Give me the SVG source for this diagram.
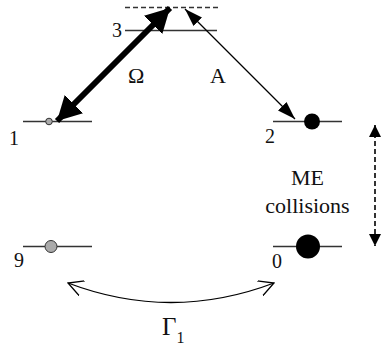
<svg xmlns="http://www.w3.org/2000/svg" width="382" height="349" viewBox="0 0 382 349">
<defs>
<style>
.lvl{stroke:#333;stroke-width:1.6;fill:none}
</style>
<marker id="hThin" viewBox="0 0 18 12" refX="18" refY="6" markerWidth="18" markerHeight="12" orient="auto-start-reverse" markerUnits="userSpaceOnUse">
<path d="M0,0 L18,6 L0,12 Z" fill="#000"/>
</marker>
<marker id="hThick" viewBox="0 0 24 26" refX="24" refY="13" markerWidth="24" markerHeight="26" orient="auto-start-reverse" markerUnits="userSpaceOnUse">
<path d="M0,0 L24,13 L0,26 Z" fill="#000"/>
</marker>
<marker id="hDash" viewBox="0 0 12 12" refX="12" refY="6" markerWidth="12" markerHeight="12" orient="auto-start-reverse" markerUnits="userSpaceOnUse">
<path d="M0,0 L12,6 L0,12 Z" fill="#000"/>
</marker>
<marker id="hOpen" viewBox="0 0 16 16" refX="15" refY="8" markerWidth="16" markerHeight="16" orient="auto-start-reverse" markerUnits="userSpaceOnUse">
<path d="M0,0 L15,8 L0,16" fill="none" stroke="#000" stroke-width="1.3"/>
</marker>
</defs>
<rect width="382" height="349" fill="#fff"/>
<g font-family="Liberation Serif, Times New Roman, serif" font-size="20" fill="#111">
<g id="level3">
<line x1="125" y1="7.5" x2="218" y2="7.5" stroke="#333" stroke-width="1.3" stroke-dasharray="5,3"/>
<line class="lvl" x1="125" y1="30.5" x2="217" y2="30.5"/>
<text x="112" y="37">3</text>
</g>
<g id="level1">
<line class="lvl" x1="23" y1="121.5" x2="92" y2="121.5"/>
<circle cx="49" cy="121.5" r="3.3" fill="#aaa" stroke="#333" stroke-width="1"/>
<text x="9" y="145">1</text>
</g>
<g id="level2">
<line class="lvl" x1="273" y1="121.5" x2="342" y2="121.5"/>
<circle cx="312" cy="121.5" r="8" fill="#000"/>
<text x="265" y="143">2</text>
</g>
<g id="level9">
<line class="lvl" x1="23" y1="246.5" x2="92" y2="246.5"/>
<circle cx="51" cy="246.5" r="6" fill="#aaa" stroke="#333" stroke-width="1"/>
<text x="14" y="267">9</text>
</g>
<g id="level0">
<line class="lvl" x1="273" y1="246.5" x2="342" y2="246.5"/>
<circle cx="308" cy="246.5" r="12" fill="#000"/>
<text x="272" y="268">0</text>
</g>
<g id="labels">
<text x="128" y="83" font-size="22">Ω</text>
<text x="210" y="83" font-size="22">A</text>
<text x="307.5" y="185" font-size="22" text-anchor="middle">ME</text>
<text x="307.5" y="213" font-size="22" text-anchor="middle">collisions</text>
<text x="162" y="335" font-size="25">Γ<tspan font-size="16" dy="8">1</tspan></text>
</g>
</g>
<g id="connectors">
<line x1="57" y1="121" x2="170" y2="8" stroke="#000" stroke-width="6" marker-start="url(#hThick)" marker-end="url(#hThick)"/>
<line x1="185" y1="9" x2="295" y2="119" stroke="#000" stroke-width="1.3" marker-start="url(#hThin)" marker-end="url(#hThin)"/>
<line x1="375" y1="125" x2="375" y2="246" stroke="#000" stroke-width="1.6" stroke-dasharray="5,3" marker-start="url(#hDash)" marker-end="url(#hDash)"/>
<path d="M68,283 Q171,322 274,283" fill="none" stroke="#000" stroke-width="1.3" marker-start="url(#hOpen)" marker-end="url(#hOpen)"/>
</g>
</svg>
